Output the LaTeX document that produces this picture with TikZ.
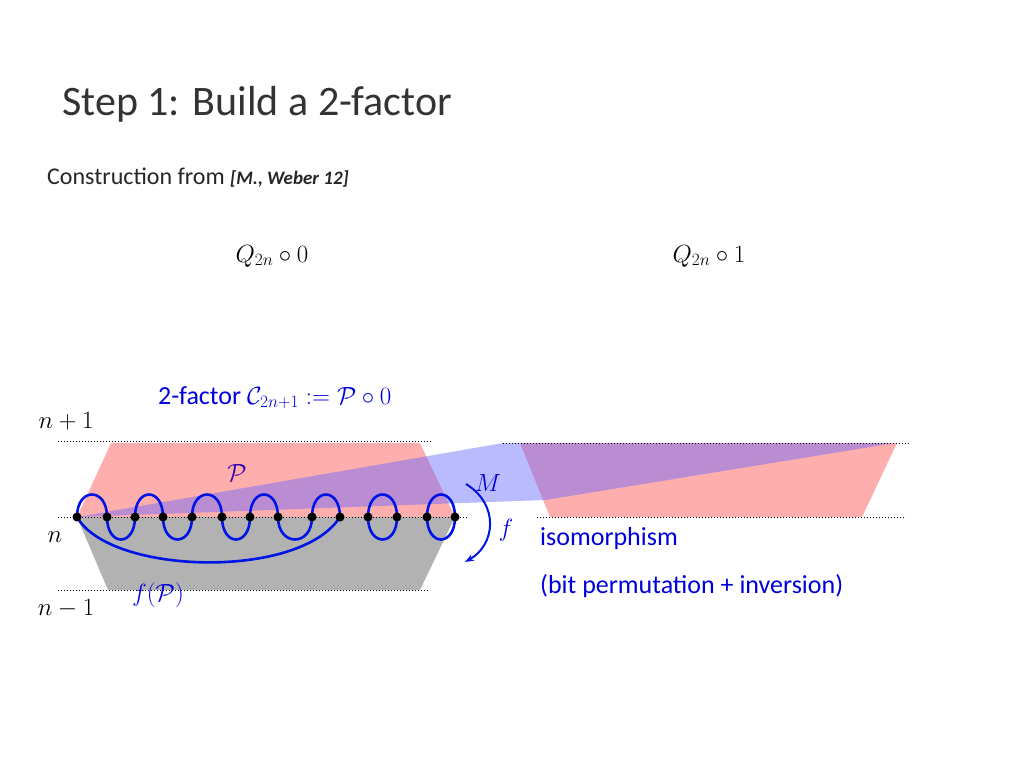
\documentclass[tikz,border=0pt]{standalone}
\usepackage{fontspec}
\setmainfont{Carlito}
\usetikzlibrary{arrows.meta,calc}
\definecolor{txtblue}{RGB}{0,0,220}
\definecolor{curveblue}{RGB}{0,20,230}
\tikzset{
  dotline/.style={dotted, line width=1pt},
  redarea/.style={fill=red!70, fill opacity=0.45, draw=none},
  grayarea/.style={fill=black!30, draw=none},
  bandarea/.style={fill=blue!60, fill opacity=0.45, draw=none},
  vtx/.style={circle, fill=black, inner sep=0pt, minimum size=9pt},
  cv/.style={draw=curveblue, line width=2.6pt},
  mlab/.style={font=\fontsize{26}{30}\selectfont, inner sep=0pt},
}
\begin{document}
\begin{tikzpicture}[x=1pt,y=-1pt]
\useasboundingbox (0,0) rectangle (1024,768);
% title
\node[anchor=base west, inner sep=0pt, text=black!80, font=\fontsize{42}{48}\selectfont] (title) at (62,115) {Step 1: Build a 2-factor};
\node[anchor=base west, inner sep=0pt, text=black!85, font=\fontsize{24}{28}\selectfont] (sub) at (47,184) {Construction from \textbf{\textit{\fontsize{19}{22}\selectfont [M., Weber 12]}}};
\node[mlab] (q0) at (272,256) {$Q_{2n}\circ 0$};
\node[mlab] (q1) at (709,256) {$Q_{2n}\circ 1$};
% areas
\fill[grayarea] (77,517) -- (455,517) -- (420,590) -- (108,590) -- cycle;
\fill[redarea] (111,443) -- (420,443) -- (455,517) -- (77,517) -- cycle;
\fill[redarea] (520,443) -- (897,443) -- (862,517) -- (550,517) -- cycle;
\fill[bandarea] (77,517) -- (503,443) -- (895,443) -- (545,500) -- cycle;
\fill[white] (462,503) rectangle (490,540);
% dotted lines
\draw[dotline] (58,441) -- (432,441);
\draw[dotline] (503,443) -- (910,443);
\draw[dotline] (58,517) -- (468,517);
\draw[dotline] (537,517) -- (906,517);
\draw[dotline] (58,590) -- (428,590);
% level labels
\node[mlab] (l1) at (66,421) {$n+1$};
\node[mlab] (l2) at (55,537) {$n$};
\node[mlab] (l3) at (66,609) {$n-1$};
% vertices
\foreach \i/\x in {1/77,2/107,3/135,4/163,5/192,6/222,7/250,8/278,9/312,10/340,11/368,12/397,13/427,14/455}
  \coordinate (v\i) at (\x,517);
% curves
\draw[cv] (v1) .. controls ($(v1)+(0,-30)$) and ($(v2)+(0,-30)$) .. (v2)
  .. controls ($(v2)+(0,30)$) and ($(v3)+(0,30)$) .. (v3)
  .. controls ($(v3)+(0,-30)$) and ($(v4)+(0,-30)$) .. (v4)
  .. controls ($(v4)+(0,30)$) and ($(v5)+(0,30)$) .. (v5)
  .. controls ($(v5)+(0,-30)$) and ($(v6)+(0,-30)$) .. (v6)
  .. controls ($(v6)+(0,30)$) and ($(v7)+(0,30)$) .. (v7)
  .. controls ($(v7)+(0,-30)$) and ($(v8)+(0,-30)$) .. (v8)
  .. controls ($(v8)+(0,30)$) and ($(v9)+(0,30)$) .. (v9)
  .. controls ($(v9)+(0,-30)$) and ($(v10)+(0,-30)$) .. (v10)
  .. controls (300,580) and (110,575) .. (v1);
\draw[cv] (v11) .. controls ($(v11)+(0,-30)$) and ($(v12)+(0,-30)$) .. (v12)
  .. controls ($(v12)+(0,30)$) and ($(v11)+(0,30)$) .. (v11);
\draw[cv] (v13) .. controls ($(v13)+(0,-30)$) and ($(v14)+(0,-30)$) .. (v14)
  .. controls ($(v14)+(0,30)$) and ($(v13)+(0,30)$) .. (v13);
\foreach \i in {1,...,14} \node[vtx] (d\i) at (v\i) {};
% labels
\node[mlab, text=txtblue!80!red, font=\fontsize{30}{34}\selectfont] (P) at (237,473) {$\mathcal{P}$};
\node[mlab, text=txtblue, font=\fontsize{30}{34}\selectfont] (fP) at (158,595) {$f(\mathcal{P})$};
\node[mlab, text=txtblue, font=\fontsize{30}{34}\selectfont] (M) at (488,483) {$M$};
\node[mlab, text=txtblue, font=\fontsize{30}{34}\selectfont] (f) at (506,530) {$f$};
\coordinate (fa) at (466,484);
\coordinate (fb) at (465,562);
\draw[draw=curveblue, line width=2pt, -{Stealth[length=9pt]}] (fa) .. controls (500,505) and (495,545) .. (fb);
\node[anchor=base west, inner sep=0pt, text=txtblue, font=\fontsize{26}{30}\selectfont] (tf) at (158,404) {2-factor $\mathcal{C}_{2n+1}:=\mathcal{P}\circ 0$};
\node[anchor=base west, inner sep=0pt, text=txtblue, font=\fontsize{26}{30}\selectfont] (iso) at (540,545) {isomorphism};
\node[anchor=base west, inner sep=0pt, text=txtblue, font=\fontsize{26}{30}\selectfont] (bp) at (540,593) {(bit permutation + inversion)};
\end{tikzpicture}
\end{document}
